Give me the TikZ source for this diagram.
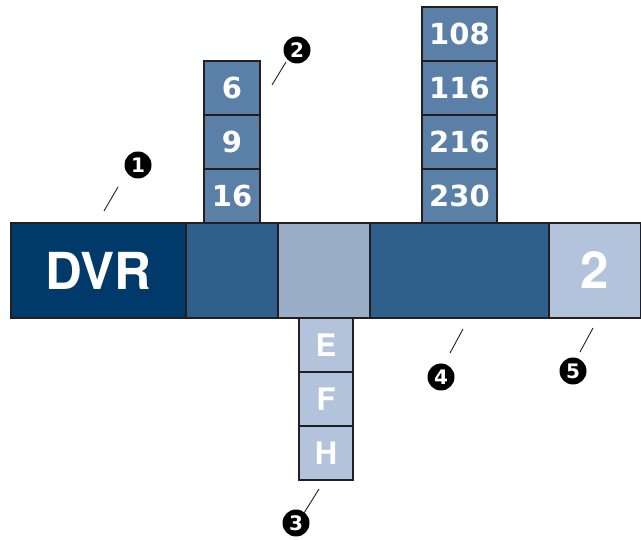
\documentclass[tikz,border=0pt]{standalone}
\usepackage{fontspec}
\setmainfont{TeX Gyre Heros}
\newfontfamily\digitfont{DejaVu Sans}
\definecolor{navy}{HTML}{003A6A}
\definecolor{midblue}{HTML}{2F5F8B}
\definecolor{greyblue}{HTML}{9AAEC8}
\definecolor{paleblue}{HTML}{B2C3DB}
\definecolor{stackblue}{HTML}{5B80A8}
\definecolor{edge}{HTML}{231F20}
\begin{document}
\begin{tikzpicture}[x=1pt, y=-1pt,
        every node/.style={font=\bfseries},
        barbox/.style={rectangle, inner sep=0pt, minimum height=95pt,
            draw=edge, line width=2.2pt, text=white,
            font=\fontsize{51}{51}\selectfont\bfseries},
        stackbox/.style={rectangle, inner sep=0pt, minimum height=54pt,
            draw=edge, line width=2pt, text=white,
            font=\fontsize{29}{29}\selectfont\digitfont\bfseries},
        letterbox/.style={stackbox,
            font=\fontsize{31}{31}\selectfont\bfseries},
        callout/.style={circle, fill=black, text=white, inner sep=0pt,
            minimum size=27pt, font=\fontsize{20}{20}\selectfont\digitfont\bfseries},
        leader/.style={draw=edge, line width=0.9pt}
      ]
      \useasboundingbox (0,0) rectangle (641,540);
      % stacks above the bar
      \node[stackbox, fill=stackblue, minimum width=56pt] (s6)  at (232, 88)  {6};
      \node[stackbox, fill=stackblue, minimum width=56pt] (s9)  at (232, 142) {9};
      \node[stackbox, fill=stackblue, minimum width=56pt] (s16) at (232, 196) {16};
      \node[stackbox, fill=stackblue, minimum width=75pt] (c108) at (459.5, 34)  {108};
      \node[stackbox, fill=stackblue, minimum width=75pt] (c116) at (459.5, 88)  {116};
      \node[stackbox, fill=stackblue, minimum width=75pt] (c216) at (459.5, 142) {216};
      \node[stackbox, fill=stackblue, minimum width=75pt] (c230) at (459.5, 196) {230};
      % stack below the bar
      \node[letterbox, fill=paleblue, minimum width=54pt] (lE) at (326, 345) {E};
      \node[letterbox, fill=paleblue, minimum width=54pt] (lF) at (326, 399) {F};
      \node[letterbox, fill=paleblue, minimum width=54pt] (lH) at (326, 453) {H};
      % main bar
      \node[barbox, fill=navy, minimum width=175pt] (dvr) at (98.5, 270.5) {DVR};
      \node[barbox, fill=midblue, minimum width=92pt] (seg2) at (232, 270.5) {};
      \node[barbox, fill=greyblue, minimum width=92pt] (seg3) at (324, 270.5) {};
      \node[barbox, fill=midblue, minimum width=179pt] (seg4) at (459.5, 270.5) {};
      \node[barbox, fill=paleblue, minimum width=92pt] (seg5) at (595, 270.5) {2};
      % callouts
      \node[callout] (n1) at (138, 165) {1};
      \node[callout] (n2) at (297, 50)  {2};
      \node[callout] (n3) at (296, 523) {3};
      \node[callout] (n4) at (441, 377) {4};
      \node[callout] (n5) at (573, 371) {5};
      \coordinate (a1) at (118, 187); \coordinate (b1) at (104, 211);
      \coordinate (a2) at (286, 62);  \coordinate (b2) at (272, 85);
      \coordinate (a3) at (319, 489); \coordinate (b3) at (304, 513);
      \coordinate (a4) at (463, 329); \coordinate (b4) at (450, 353);
      \coordinate (a5) at (593, 328); \coordinate (b5) at (580, 352);
      \draw[leader] (a1) -- (b1);
      \draw[leader] (a2) -- (b2);
      \draw[leader] (a3) -- (b3);
      \draw[leader] (a4) -- (b4);
      \draw[leader] (a5) -- (b5);
    \end{tikzpicture}
\end{document}
